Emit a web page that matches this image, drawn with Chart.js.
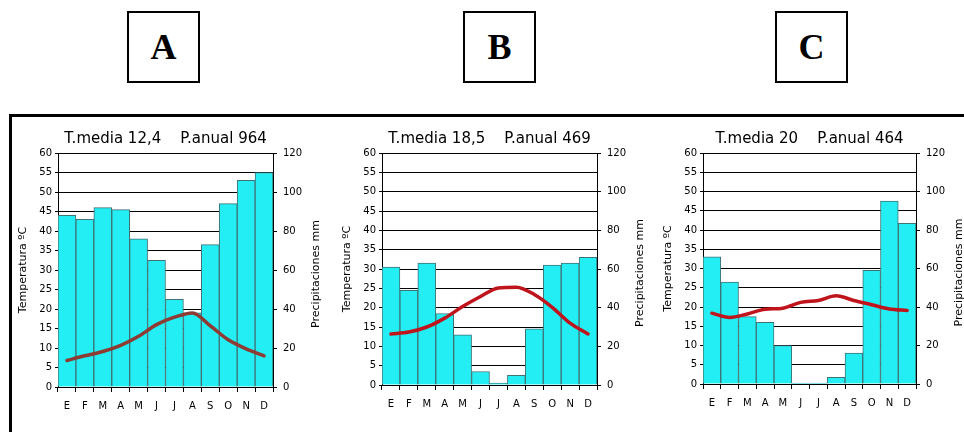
<!DOCTYPE html>
<html>
<head>
<meta charset="utf-8">
<title>Climogramas A B C</title>
<script src="https://cdn.jsdelivr.net/npm/chart.js@4.4.0/dist/chart.umd.min.js"></script>
<style>
  body {
    margin: 0;
    width: 964px;
    height: 432px;
    overflow: hidden;
    background: #fff;
    position: relative;
  }
  .box {
    position: absolute;
    top: 11px;
    width: 69px;
    height: 68px;
    border: 2px solid #000;
    font: bold 36px "Liberation Serif", "Times New Roman", serif;
    display: flex;
    align-items: center;
    justify-content: center;
  }
  .frame {
    position: absolute;
    left: 9px;
    top: 114px;
    right: 0;
    bottom: 0;
    border-top: 3px solid #000;
    border-left: 3px solid #000;
  }
  canvas {
    position: absolute;
  }
</style>
</head>
<body>
<div class="box" style="left:127px">A</div>
<div class="box" style="left:463px">B</div>
<div class="box" style="left:775px">C</div>
<div class="frame"></div>
<canvas id="chartA"></canvas>
<canvas id="chartB"></canvas>
<canvas id="chartC"></canvas>

<script>
// Months (Spanish initials)
const months = ['E', 'F', 'M', 'A', 'M', 'J', 'J', 'A', 'S', 'O', 'N', 'D'];

// Climograma A
const titleA = 'T.media 12,4    P.anual 964';
const tempA = [6.8, 8.0, 9.1, 10.7, 13.0, 16.0, 17.9, 19.0, 15.7, 12.1, 9.8, 8.0];
const precipA = [88, 86, 92, 91, 76, 65, 45, 38, 73, 94, 106, 110];

// Climograma B
const titleB = 'T.media 18,5    P.anual 469';
const tempB = [13.2, 13.7, 15.0, 17.3, 20.3, 22.9, 25.1, 25.3, 23.4, 20.1, 16.0, 13.2];
const precipB = [61, 49, 63, 37, 26, 7, 1, 5, 29, 62, 63, 66];

// Climograma C
const titleC = 'T.media 20    P.anual 464';
const tempC = [18.4, 17.3, 18.2, 19.4, 19.7, 21.2, 21.7, 22.9, 21.7, 20.6, 19.5, 19.1];
const precipC = [66, 53, 35, 32, 20, 0.5, 0.5, 3.5, 16, 59, 95, 83.5];

// Axis ranges
const tempMax = 60, tempStep = 5;
const precipMax = 120, precipStep = 20;

const tickFont = { family: '"DejaVu Sans", sans-serif', size: 10 };
const axisTitleFont = { family: '"DejaVu Sans", sans-serif', size: 11 };

// draws the right axis title reading bottom-to-top, like the left one
const rightTitle = {
    id: 'rightTitle',
    afterDraw(chart, args, opts) {
        const s = chart.scales.y2;
        const area = chart.chartArea;
        const ctx = chart.ctx;
        ctx.save();
        ctx.translate(s.left + opts.offset, (area.top + area.bottom) / 2 + 4);
        ctx.rotate(-Math.PI / 2);
        ctx.font = `${axisTitleFont.size}px ${axisTitleFont.family}`;
        ctx.fillStyle = '#000';
        ctx.textAlign = 'center';
        ctx.textBaseline = 'middle';
        ctx.fillText(opts.text, 0, 0);
        ctx.restore();
    }
};

function renderClimograma(id, plot, title, temps, precip, lineColor) {
    const canvas = document.getElementById(id);
    const sideW = 48, topH = 35, canvasH = 300;
    const bottomH = canvasH - topH - (plot.bottom - plot.top);

    canvas.style.left = (plot.left - sideW) + 'px';
    canvas.style.top = (plot.top - topH) + 'px';
    canvas.width = plot.right - plot.left + sideW * 2;
    canvas.height = canvasH;

    new Chart(canvas.getContext('2d'), {
        type: 'bar',
        data: {
            labels: months,
            datasets: [
                {
                    type: 'line',
                    label: 'Temperatura',
                    data: temps,
                    yAxisID: 'y',
                    borderColor: lineColor,
                    borderWidth: 3.5,
                    cubicInterpolationMode: 'monotone',
                    pointRadius: 0,
                    borderCapStyle: 'round',
                    order: 0
                },
                {
                    label: 'Precipitaciones',
                    data: precip,
                    yAxisID: 'y2',
                    backgroundColor: '#22eef3',
                    borderColor: '#3f7275',
                    borderWidth: 1,
                    barPercentage: 1,
                    categoryPercentage: 1,
                    order: 1
                }
            ]
        },
        options: {
            responsive: false,
            animation: false,
            layout: { padding: 0 },
            plugins: {
                legend: { display: false },
                tooltip: { enabled: false },
                title: {
                    display: true,
                    text: title,
                    color: '#000',
                    font: { family: '"DejaVu Sans", sans-serif', size: 15, weight: 'normal', lineHeight: 1.2 },
                    padding: { top: 12, bottom: 5 }
                },
                rightTitle: { text: 'Precipitaciones mm', offset: 43 }
            },
            scales: {
                x: {
                    afterFit: s => { s.height = bottomH; },
                    ticks: { color: '#000', font: tickFont, padding: 8, autoSkip: false, maxRotation: 0 },
                    grid: { drawOnChartArea: false, color: '#000', tickLength: 5, offset: true },
                    border: { color: '#000' }
                },
                y: {
                    position: 'left',
                    min: 0,
                    max: tempMax,
                    afterFit: s => { s.width = sideW; },
                    ticks: { stepSize: tempStep, color: '#000', font: tickFont, padding: 3 },
                    grid: { color: '#000', lineWidth: 1, tickLength: 3 },
                    border: { color: '#000' },
                    title: {
                        display: true,
                        text: 'Temperatura ºC',
                        color: '#000',
                        font: axisTitleFont,
                        padding: { top: 7, bottom: 0 }
                    }
                },
                y2: {
                    position: 'right',
                    min: 0,
                    max: precipMax,
                    afterFit: s => { s.width = sideW; },
                    ticks: { stepSize: precipStep, color: '#000', font: tickFont, padding: 6 },
                    grid: { drawOnChartArea: false, color: '#000', tickLength: 4 },
                    border: { color: '#000' }
                }
            }
        },
        plugins: [rightTitle]
    });
}

renderClimograma('chartA', { left: 58, right: 273, top: 153, bottom: 387 }, titleA, tempA, precipA, '#8e3b34');
renderClimograma('chartB', { left: 382, right: 597, top: 153, bottom: 385 }, titleB, tempB, precipB, '#c0141c');
renderClimograma('chartC', { left: 703, right: 916, top: 153, bottom: 384 }, titleC, tempC, precipC, '#c0141c');
</script>
</body>
</html>
